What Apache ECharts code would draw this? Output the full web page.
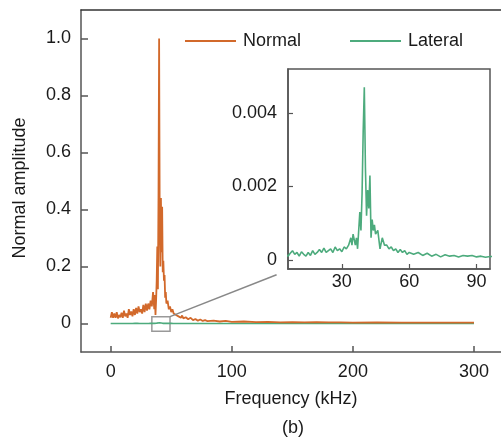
<!DOCTYPE html>
<html>
<head>
<meta charset="utf-8">
<script src="https://cdn.jsdelivr.net/npm/echarts@6/dist/echarts.min.js"></script>
<style>html,body{margin:0;padding:0;background:#fff;}#c{width:501px;height:438px;}</style>
</head>
<body>
<div id="c"></div>
<script>
// ---- data ----
const normalFreq = [0,1,2,3,4,5,6,7,8,9,10,11,12,13,14,15,16,17,18,19,20,21,22,23,24,25,26,27,28,29,30,31,32,33,34,35,36,36.5,37,37.5,38,38.5,39,39.5,40,40.5,41,41.5,42,42.5,43,43.5,44,44.5,45,45.5,46,47,48,49,50,51,52,53,54,55,56,57,58,59,60,62,64,66,68,70,72,74,76,78,80,85,90,95,100,110,120,130,140,150,160,170,180,190,200,220,240,260,280,300];
const normalAmp = [0.02,0.04,0.02,0.035,0.02,0.04,0.018,0.03,0.022,0.038,0.02,0.045,0.025,0.035,0.02,0.05,0.03,0.042,0.025,0.05,0.03,0.055,0.035,0.06,0.04,0.05,0.035,0.065,0.04,0.07,0.045,0.07,0.05,0.08,0.06,0.11,0.05,0.1,0.03,0.08,0.15,0.27,0.12,0.45,1.0,0.35,0.2,0.44,0.25,0.41,0.18,0.22,0.15,0.17,0.09,0.11,0.07,0.08,0.05,0.06,0.04,0.05,0.035,0.04,0.03,0.035,0.025,0.03,0.02,0.028,0.018,0.022,0.015,0.02,0.012,0.016,0.01,0.014,0.009,0.012,0.008,0.01,0.007,0.009,0.006,0.007,0.005,0.006,0.004,0.005,0.004,0.005,0.004,0.004,0.003,0.004,0.003,0.003,0.003,0.003];

const lateralFreq = [0,2,4,6,7,8,9,10,11,12,13,14,15,16,17,18,19,20,21,22,23,24,25,26,27,28,29,30,31,32,33,34,34.5,35,36,36.5,37,38,38.5,39,39.5,40,40.5,41,41.5,42,42.5,43,43.5,44,44.5,45,46,47,48,49,50,51,52,53,54,55,56,57,58,59,60,62,64,66,68,70,72,74,76,78,80,82,84,86,88,90,92,94,96,100,150,200,250,300];
const lateralAmp = [0.0002,0.0001,0.0002,0.0001,0.00018,0.00025,0.00015,0.0002,0.0001,0.00022,0.00015,0.0001,0.0002,0.00012,0.00025,0.00015,0.0002,0.00028,0.0002,0.00032,0.0002,0.00025,0.0003,0.0002,0.00035,0.00025,0.0003,0.00022,0.00035,0.0003,0.0004,0.0006,0.0004,0.0007,0.0004,0.0006,0.0003,0.0013,0.0008,0.0018,0.0035,0.0047,0.0025,0.0012,0.0019,0.0014,0.0023,0.0006,0.0011,0.0008,0.00095,0.0007,0.0008,0.0003,0.0006,0.0004,0.0004,0.0003,0.00035,0.00025,0.0003,0.0002,0.00028,0.0002,0.00025,0.00015,0.0002,0.00015,0.0002,0.00012,0.00018,0.0001,0.00015,0.00008,0.00014,0.0001,0.00012,0.00008,0.00012,0.0001,0.00012,0.00008,0.0001,0.00007,0.00009,0.0001,0.0001,0.0001,0.0001,0.0001];

const mainXTicks = [0,100,200,300];
const mainYTicks = [0,0.2,0.4,0.6,0.8,1.0];
const insetXTicks = [30,60,90];
const insetYTicks = [0,0.002,0.004];
const seriesNames = ['Normal','Lateral'];

// zoom annotation (data space of main chart)
const zoomBox = [[34,-0.027],[49,0.024]];
const zoomLink = [[49,0.024],[137,0.171]];

const pair = (xs, ys) => xs.map((x,i)=>[x, ys[i]]);

const FONT = 'Liberation Sans, Arial, sans-serif';
const TXT = '#1a1a1a';
const ORANGE = '#d2692b';
const GREEN = '#4dab7d';
const AXIS = '#555';

const chart = echarts.init(document.getElementById('c'), null, {renderer:'canvas'});
chart.setOption({
  animation:false,
  backgroundColor:'#fff',
  textStyle:{fontFamily:FONT},
  legend:{
    left:180, top:27, itemWidth:51, itemHeight:2, itemGap:49, icon:'rect',
    data:seriesNames,
    textStyle:{fontSize:18, color:TXT, fontFamily:FONT, padding:[0,0,0,2]}
  },
  graphic:[
    {type:'text', x:20, y:188, rotation:Math.PI/2,
     style:{text:'Normal amplitude', font:'18px '+FONT, fill:TXT, align:'center', verticalAlign:'middle'}},
    {type:'text', x:293, y:428,
     style:{text:'(b)', font:'18px '+FONT, fill:TXT, align:'center', verticalAlign:'middle'}}
  ],
  grid:[
    {left:81, top:10, right:-2, bottom:86},
    {left:288, top:69, width:202, height:200, show:true, backgroundColor:'#fff', borderColor:AXIS, borderWidth:1.5, z:5}
  ],
  xAxis:[
    {gridIndex:0, type:'value', min:-24.5, max:322.3, position:'bottom',
     name:'Frequency (kHz)', nameLocation:'middle', nameGap:38,
     nameTextStyle:{fontSize:18, color:TXT, fontFamily:FONT},
     axisLine:{show:true, onZero:false, lineStyle:{color:AXIS, width:1.5}},
     axisTick:{show:true, inside:true, length:6, customValues:mainXTicks, lineStyle:{color:AXIS, width:1.5}},
     axisLabel:{show:true, margin:11, fontSize:18, color:TXT, customValues:mainXTicks, formatter:v=>String(v)},
     splitLine:{show:false}},
    {gridIndex:0, type:'value', min:-24.5, max:322.3, position:'top',
     axisLine:{show:true, onZero:false, lineStyle:{color:'#333', width:1.5}},
     axisTick:{show:false}, axisLabel:{show:false}, splitLine:{show:false}},
    {gridIndex:1, type:'value', min:6, max:96, position:'bottom',
     axisLine:{show:true, onZero:false, lineStyle:{color:AXIS, width:1.5}},
     axisTick:{show:true, inside:true, length:5, customValues:insetXTicks, lineStyle:{color:AXIS, width:1.2}},
     axisLabel:{show:true, margin:4, fontSize:18, color:TXT, customValues:insetXTicks, formatter:v=>String(v)},
     splitLine:{show:false}, z:6}
  ],
  yAxis:[
    {gridIndex:0, type:'value', min:-0.1, max:1.1,
     axisLine:{show:true, onZero:false, lineStyle:{color:AXIS, width:1.5}},
     axisTick:{show:true, inside:true, length:7, customValues:mainYTicks, lineStyle:{color:AXIS, width:1.5}},
     axisLabel:{show:true, margin:10, fontSize:18, color:TXT, customValues:mainYTicks, formatter:v=>v===0?'0':v.toFixed(1)},
     splitLine:{show:false}},
    {gridIndex:1, type:'value', min:-0.00025, max:0.0052,
     axisLine:{show:true, onZero:false, lineStyle:{color:AXIS, width:1.5}},
     axisTick:{show:true, inside:true, length:5, customValues:insetYTicks, lineStyle:{color:AXIS, width:1.2}},
     axisLabel:{show:true, margin:11, fontSize:18, color:TXT, customValues:insetYTicks, formatter:v=>v===0?'0':v.toFixed(3)},
     splitLine:{show:false}, z:6}
  ],
  series:[
    {name:'Normal', type:'line', xAxisIndex:0, yAxisIndex:0, data:pair(normalFreq, normalAmp),
     showSymbol:false, symbol:'none', lineStyle:{color:ORANGE, width:1.8}, itemStyle:{color:ORANGE}, z:3},
    {name:'Lateral', type:'line', xAxisIndex:0, yAxisIndex:0, data:pair(lateralFreq, lateralAmp),
     showSymbol:false, symbol:'none', lineStyle:{color:GREEN, width:1.6}, itemStyle:{color:GREEN}, z:2,
     markArea:{silent:true, itemStyle:{color:'rgba(0,0,0,0)', borderColor:'#999', borderWidth:1.5},
       data:[[{coord:zoomBox[0]},{coord:zoomBox[1]}]]},
     markLine:{silent:true, symbol:['none','none'], label:{show:false},
       lineStyle:{color:'#888', width:1.5, type:'solid'},
       data:[[{coord:zoomLink[0]},{coord:zoomLink[1]}]]}},
    {name:'Lateral', type:'line', xAxisIndex:2, yAxisIndex:1, data:pair(lateralFreq, lateralAmp),
     showSymbol:false, symbol:'none', clip:true, lineStyle:{color:GREEN, width:1.6}, itemStyle:{color:GREEN}, z:7}
  ]
});
</script>
</body>
</html>
